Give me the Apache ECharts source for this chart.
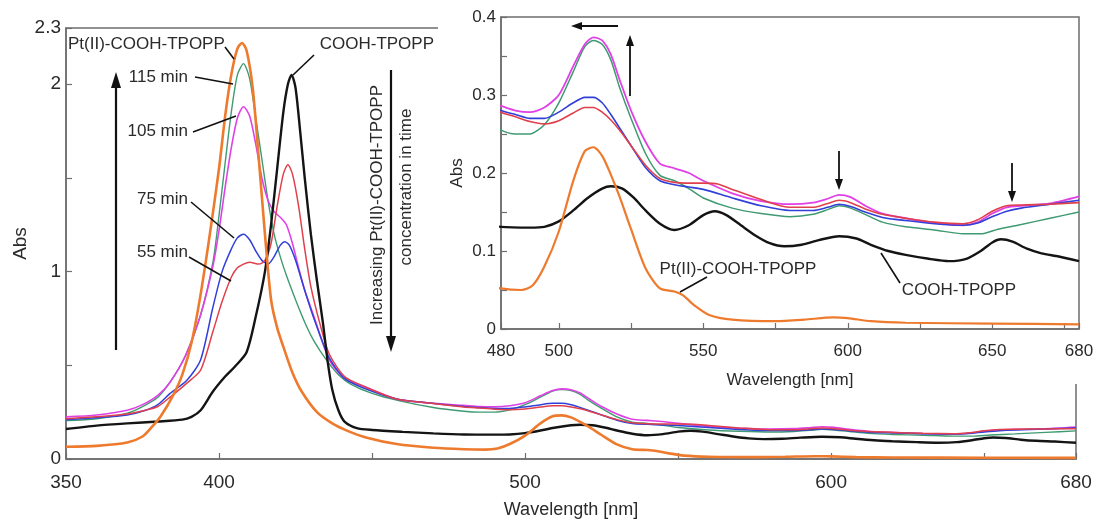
<!DOCTYPE html>
<html><head><meta charset="utf-8">
<script src="https://cdn.jsdelivr.net/npm/echarts@6/dist/echarts.min.js"></script>
<style>html,body{margin:0;padding:0;background:#fff}#c{width:1096px;height:522px}</style>
</head><body><div id="c"></div>
<script>
// ---- data: [wavelength nm, absorbance] ----
const ptTPOPP = [[350,0.065],[360,0.07],[370,0.088],[375,0.12],[378,0.17],[381,0.23],[385,0.34],[388,0.45],[391,0.62],[394,0.88],[397,1.2],[400,1.55],[402,1.83],[404,2.05],[406,2.19],[407.5,2.22],[409,2.18],[411,1.98],[413,1.6],[415,1.2],[417,0.85],[419,0.7],[421,0.6],[424,0.46],[427,0.36],[432,0.25],[437,0.19],[442,0.15],[448,0.115],[458,0.08],[470,0.06],[480,0.052],[487,0.05],[491,0.056],[495,0.08],[500,0.125],[505,0.19],[509,0.228],[512,0.233],[515,0.222],[518,0.198],[521,0.17],[525,0.128],[530,0.078],[535,0.052],[540,0.048],[543,0.043],[547,0.03],[552,0.018],[560,0.012],[575,0.01],[585,0.012],[595,0.015],[600,0.014],[608,0.01],[620,0.008],[650,0.007],[680,0.006]];
const coohTPOPP = [[350,0.16],[360,0.178],[370,0.19],[380,0.2],[388,0.21],[391,0.225],[394,0.26],[398,0.36],[402,0.44],[405,0.49],[409,0.57],[412,0.76],[415,1.0],[417,1.25],[419,1.55],[421,1.85],[422.5,2.0],[423.7,2.05],[425,1.98],[426.5,1.75],[428,1.5],[430,1.2],[432,0.95],[434,0.72],[435.5,0.52],[437,0.37],[439,0.26],[441,0.2],[445,0.165],[450,0.155],[460,0.145],[470,0.137],[480,0.131],[490,0.13],[495,0.131],[500,0.138],[505,0.152],[510,0.168],[515,0.18],[518,0.183],[522,0.18],[526,0.168],[530,0.152],[535,0.135],[540,0.127],[545,0.133],[550,0.146],[554,0.151],[558,0.146],[563,0.133],[568,0.12],[573,0.11],[578,0.106],[584,0.108],[590,0.114],[597,0.119],[603,0.116],[608,0.108],[614,0.1],[620,0.095],[628,0.09],[635,0.087],[641,0.09],[646,0.1],[650,0.111],[653,0.115],[657,0.112],[662,0.103],[667,0.097],[673,0.093],[680,0.087]];
const min115 = [[350,0.205],[360,0.215],[370,0.245],[375,0.28],[380,0.33],[384,0.41],[389,0.55],[394,0.77],[398,1.05],[400,1.3],[402,1.58],[404,1.85],[406,2.05],[408,2.11],[410,2.03],[412,1.82],[414,1.6],[416,1.38],[418,1.2],[420,1.08],[422,0.98],[425,0.85],[428,0.73],[431,0.63],[435,0.53],[439,0.45],[443,0.4],[450,0.35],[459,0.31],[470,0.275],[480,0.255],[485,0.25],[490,0.25],[495,0.262],[500,0.29],[505,0.33],[509,0.362],[512,0.37],[515,0.365],[518,0.345],[521,0.31],[525,0.27],[530,0.225],[535,0.197],[540,0.19],[545,0.18],[550,0.168],[560,0.155],[570,0.148],[580,0.144],[588,0.147],[593,0.153],[597,0.158],[601,0.155],[606,0.147],[612,0.137],[620,0.131],[630,0.127],[640,0.122],[646,0.122],[652,0.128],[660,0.134],[670,0.142],[680,0.15]];
const min105 = [[350,0.225],[360,0.235],[370,0.26],[375,0.29],[380,0.34],[384,0.41],[389,0.55],[394,0.77],[398,1.03],[400,1.22],[402,1.45],[404,1.66],[406,1.82],[408,1.88],[410,1.83],[412,1.68],[414,1.5],[416,1.38],[418,1.32],[420,1.29],[422,1.25],[424,1.15],[426,1.02],[428,0.9],[431,0.76],[436,0.53],[441,0.43],[447,0.39],[458,0.32],[468,0.3],[480,0.286],[485,0.28],[490,0.278],[495,0.284],[500,0.3],[505,0.337],[509,0.365],[512,0.374],[515,0.37],[518,0.352],[521,0.32],[525,0.28],[530,0.24],[535,0.212],[540,0.206],[545,0.2],[550,0.19],[560,0.174],[570,0.164],[580,0.16],[588,0.162],[593,0.167],[597,0.172],[601,0.169],[606,0.158],[612,0.148],[620,0.142],[630,0.136],[640,0.133],[645,0.137],[650,0.148],[655,0.156],[660,0.158],[670,0.161],[680,0.17]];
const min75 = [[350,0.21],[360,0.22],[370,0.235],[376,0.26],[380,0.29],[384,0.35],[389.5,0.42],[394,0.53],[398,0.81],[401,1.0],[404,1.12],[406,1.18],[408,1.2],[410,1.17],[412,1.11],[414,1.06],[416,1.04],[418,1.08],[420,1.14],[421.5,1.16],[423,1.14],[425,1.06],[428,0.9],[431,0.75],[436,0.54],[441,0.43],[447,0.38],[458,0.32],[468,0.3],[480,0.28],[485,0.275],[490,0.27],[495,0.27],[500,0.278],[505,0.29],[509,0.297],[512,0.297],[515,0.29],[518,0.275],[521,0.258],[525,0.235],[530,0.207],[535,0.19],[540,0.185],[545,0.182],[550,0.179],[560,0.168],[570,0.158],[580,0.152],[588,0.152],[593,0.156],[597,0.16],[601,0.157],[606,0.15],[612,0.143],[620,0.139],[630,0.135],[640,0.133],[645,0.136],[650,0.144],[655,0.151],[660,0.155],[670,0.16],[680,0.165]];
const min55 = [[350,0.215],[360,0.225],[370,0.24],[376,0.26],[380,0.28],[384,0.33],[389.5,0.405],[394,0.475],[398,0.68],[401,0.84],[404,0.97],[406,1.02],[408,1.04],[410,1.05],[413,1.04],[415,1.06],[417,1.15],[419,1.35],[421,1.52],[422.5,1.57],[424,1.52],[426,1.35],[428,1.12],[430,0.92],[433,0.72],[436,0.56],[441,0.44],[447,0.39],[458,0.32],[468,0.3],[480,0.278],[485,0.272],[490,0.266],[495,0.263],[500,0.267],[505,0.277],[509,0.284],[512,0.284],[515,0.278],[518,0.268],[521,0.255],[525,0.235],[530,0.21],[535,0.193],[540,0.188],[545,0.187],[550,0.187],[555,0.186],[560,0.179],[570,0.166],[580,0.156],[588,0.156],[593,0.161],[597,0.165],[601,0.162],[606,0.154],[612,0.147],[620,0.142],[630,0.137],[640,0.135],[645,0.14],[650,0.151],[655,0.158],[660,0.159],[670,0.16],[680,0.162]];

const mainXTicks = [350,400,450,500,550,600,650,680];
const mainXLabels = [350,400,500,600,680];
const mainYTicks = [0,0.5,1,1.5,2,2.3];
const mainYLabels = [0,1,2,2.3];
const insetXTicks = [480,500,525,550,575,600,625,650,675,680];
const insetXLabels = [480,500,550,600,650,680];
const insetYTicks = [0,0.05,0.1,0.15,0.2,0.25,0.3,0.35,0.4];
const insetYLabels = [0,0.1,0.2,0.3,0.4];

// ---- styling ----
const SANS = "'Liberation Sans',Arial,sans-serif";
const AX = '#6e6e6e';
const TXT = '#2a2a2a';
const C = {pt:'#ee7a2e', coo:'#141414', g:'#3f9a72', m:'#e040e6', b:'#3040d8', r:'#e0404c'};

function axisX(idx, min, max, ticks, labels, name, gap, fs, nfs, z) {
  return {type:'value', gridIndex:idx, min, max, z,
    name, nameLocation:'middle', nameGap:gap, nameMoveOverlap:false,
    nameTextStyle:{fontFamily:SANS, fontSize:nfs, color:TXT},
    axisLine:{show:true, lineStyle:{color:AX, width:1.5}},
    axisTick:{show:true, inside:true, length:6, customValues:ticks, lineStyle:{color:AX, width:1.2}},
    axisLabel:{customValues:labels, fontFamily:SANS, fontSize:fs, color:TXT, margin:14, showMinLabel:true, showMaxLabel:true},
    splitLine:{show:false}};
}
function axisY(idx, min, max, ticks, labels, name, gap, fs, nfs, z) {
  return {type:'value', gridIndex:idx, min, max, z,
    name, nameLocation:'middle', nameGap:gap, nameMoveOverlap:false,
    nameTextStyle:{fontFamily:SANS, fontSize:nfs, color:TXT},
    axisLine:{show:true, lineStyle:{color:AX, width:1.5}},
    axisTick:{show:true, inside:true, length:6, customValues:ticks, lineStyle:{color:AX, width:1.2}},
    axisLabel:{customValues:labels, fontFamily:SANS, fontSize:fs, color:TXT, margin:5, showMinLabel:true, showMaxLabel:true},
    splitLine:{show:false}};
}
function line(name, data, color, width, idx, z) {
  return {type:'line', name, data, xAxisIndex:idx, yAxisIndex:idx,
    symbol:'none', showSymbol:false, smooth:0.25,
    lineStyle:{color, width}, z, clip:true, silent:true, animation:false};
}

const graphics = [];
function txt(x, y, s, fs, align, rot) {
  graphics.push({type:'text', x, y, rotation:rot||0, z:20,
    style:{text:s, font:fs+'px '+SANS, fill:TXT, align:align||'left', verticalAlign:'middle', textAlign:align||'left', textVerticalAlign:'middle'}});
}
function seg(x1, y1, x2, y2, w) {
  graphics.push({type:'line', z:20, shape:{x1,y1,x2,y2}, style:{stroke:'#111', lineWidth:w||1.6}});
}
function arrow(x1, y1, x2, y2, w, hl, hw) {
  const dx = x2-x1, dy = y2-y1, L = Math.hypot(dx,dy), ux = dx/L, uy = dy/L;
  const bx = x2-ux*hl, by = y2-uy*hl;
  seg(x1, y1, bx, by, w);
  graphics.push({type:'polygon', z:20, shape:{points:[[x2,y2],[bx-uy*hw,by+ux*hw],[bx+uy*hw,by-ux*hw]]}, style:{fill:'#111'}});
}

// white background of the inset (hides the main frame behind it)
graphics.push({type:'rect', z:3, shape:{x:438, y:0, width:658, height:384}, style:{fill:'#fff'}});

// main annotations
txt(68, 44, 'Pt(II)-COOH-TPOPP', 17);
seg(225, 47, 234, 59);
txt(434, 44, 'COOH-TPOPP', 17, 'right');
seg(314, 55, 293, 75);
txt(188, 77, '115 min', 17, 'right');
seg(195, 77, 233, 84);
txt(188, 131, '105 min', 17, 'right');
seg(193, 132, 236, 116);
txt(188, 199, '75 min', 17, 'right');
seg(191, 202, 234, 238);
txt(188, 252, '55 min', 17, 'right');
seg(189, 257, 231, 281);
arrow(116, 350, 116, 72, 2.2, 16, 5);
arrow(391, 70, 391, 352, 2.2, 16, 5);
txt(377, 205, 'Increasing Pt(II)-COOH-TPOPP', 17, 'center', Math.PI/2);
txt(406, 187, 'concentration in time', 17, 'center', Math.PI/2);

// inset annotations
arrow(618, 26, 571, 26, 1.8, 11, 4);
arrow(630, 96, 630, 35, 1.8, 11, 4);
arrow(839, 151, 839, 190, 1.8, 11, 4);
arrow(1012, 163, 1012, 202, 1.8, 11, 4);
txt(738, 269, 'Pt(II)-COOH-TPOPP', 17, 'center');
seg(707, 277, 680, 292);
txt(959, 290, 'COOH-TPOPP', 17, 'center');
seg(900, 283, 881, 253);

const option = {
  animation:false,
  backgroundColor:'#fff',
  grid:[
    {left:66, top:28, width:1010, height:431, containLabel:false, outerBoundsMode:'none', show:true, borderColor:AX, borderWidth:1.5, backgroundColor:'transparent', z:0},
    {left:501, top:17, width:578, height:312, containLabel:false, outerBoundsMode:'none', show:true, borderColor:AX, borderWidth:1.5, backgroundColor:'transparent', z:4}
  ],
  xAxis:[
    axisX(0, 350, 680, mainXTicks, mainXLabels, 'Wavelength [nm]', 42, 19, 18, 1),
    axisX(1, 480, 680, insetXTicks, insetXLabels, 'Wavelength [nm]', 43, 17, 17, 4)
  ],
  yAxis:[
    axisY(0, 0, 2.3, mainYTicks, mainYLabels, 'Abs', 36, 19, 19, 1),
    axisY(1, 0, 0.4, insetYTicks, insetYLabels, 'Abs', 35, 17, 17, 4)
  ],
  series:[
    line('115 min', min115, C.g, 1.4, 0, 2),
    line('105 min', min105, C.m, 1.6, 0, 2),
    line('75 min', min75, C.b, 1.5, 0, 2),
    line('55 min', min55, C.r, 1.5, 0, 2),
    line('COOH-TPOPP', coohTPOPP, C.coo, 2.4, 0, 2),
    line('Pt(II)-COOH-TPOPP', ptTPOPP, C.pt, 2.6, 0, 2),
    line('115 min', min115, C.g, 1.5, 1, 5),
    line('105 min', min105, C.m, 1.8, 1, 5),
    line('75 min', min75, C.b, 1.6, 1, 5),
    line('55 min', min55, C.r, 1.6, 1, 5),
    line('COOH-TPOPP', coohTPOPP, C.coo, 2.4, 1, 5),
    line('Pt(II)-COOH-TPOPP', ptTPOPP, C.pt, 2.2, 1, 5)
  ],
  graphic:{elements:graphics}
};
const chart = echarts.init(document.getElementById('c'), null, {renderer:'canvas'});
chart.setOption(option);
</script></body></html>
